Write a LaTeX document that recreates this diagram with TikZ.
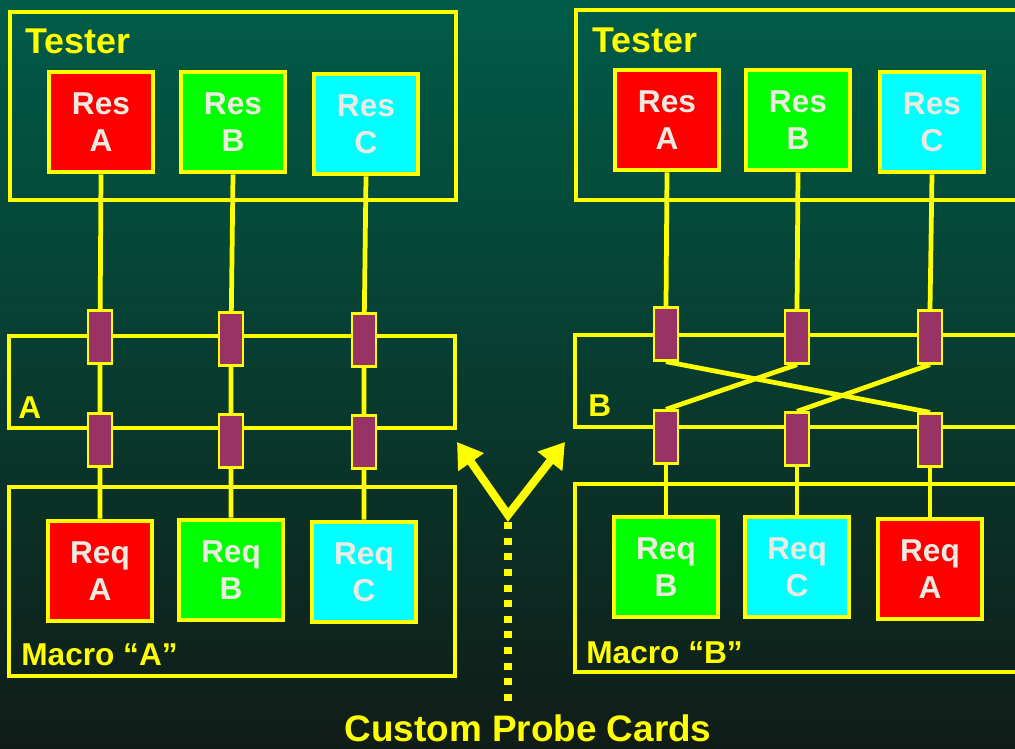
\documentclass[tikz,border=0pt]{standalone}
\usepackage{fontspec}
\setmainfont{Liberation Sans}
\usetikzlibrary{arrows.meta,positioning}
\definecolor{sun}{HTML}{FFFF00}
\definecolor{chalk}{HTML}{EEEAE2}
\definecolor{plum}{HTML}{993366}
\definecolor{scarlet}{HTML}{FF0000}
\definecolor{lime}{HTML}{00FF00}
\definecolor{aqua}{HTML}{00FFFF}
\definecolor{bgtop}{HTML}{005C48}
\definecolor{bgmid}{HTML}{003F30}
\definecolor{bgbot}{HTML}{101C17}
\tikzset{frame/.style={draw=sun,line width=2.8pt},unit/.style={draw=sun,line width=2.8pt,minimum width=2.08cm,minimum height=2cm,inner sep=0pt,align=center,text=chalk,font=\fontsize{18pt}{21pt}\selectfont\bfseries},pad/.style={draw=sun,line width=1.3pt,fill=plum,minimum width=0.48cm,minimum height=1.06cm,inner sep=0pt},wire/.style={draw=sun,line width=2.7pt},tag/.style={text=sun,inner sep=0pt,anchor=base west,font=\fontsize{18pt}{21pt}\selectfont\bfseries},head/.style={tag,font=\fontsize{20.4pt}{24pt}\selectfont\bfseries}}

\begin{document}
\begin{tikzpicture}[x=0.02cm,y=-0.02cm]
\path[use as bounding box] (0,0) rectangle (1015,748);
\clip (0,0) rectangle (1015,748);
\shade[top color=bgtop,middle color=bgmid,bottom color=bgbot] (0,0) rectangle (1015,748);
% macro A
\draw[frame] (10,12) rectangle (456,200);
\draw[frame] (9,336) rectangle (455,428);
\draw[frame] (9,487) rectangle (455,676);
\node[head] (testerA) at (25,53) {Tester};
\node[tag] (cardA) at (18,418) {A};
\node[tag] (macroA) at (21,665) {Macro “A”};
\node[unit,fill=scarlet] (resA1) at (101,122) {Res\\A};
\node[unit,fill=lime] (resB1) at (233,122) {Res\\B};
\node[unit,fill=aqua] (resC1) at (366,124) {Res\\C};
\node[unit,fill=scarlet] (reqA1) at (100,571) {Req\\A};
\node[unit,fill=lime] (reqB1) at (231,570) {Req\\B};
\node[unit,fill=aqua] (reqC1) at (364,572) {Req\\C};
\draw[wire] (resA1.south)--(100,337) (100,337)--(100,440) (100,440)--(reqA1.north);
\draw[wire] (resB1.south)--(231,339) (231,339)--(231,441) (231,441)--(reqB1.north);
\draw[wire] (resC1.south)--(364,340) (364,340)--(364,442) (364,442)--(reqC1.north);
\node[pad] (upA1) at (100,337) {};
\node[pad] (upB1) at (231,339) {};
\node[pad] (upC1) at (364,340) {};
\node[pad] (loA1) at (100,440) {};
\node[pad] (loB1) at (231,441) {};
\node[pad] (loC1) at (364,442) {};
% macro B
\draw[frame] (576,10) rectangle (1030,200);
\draw[frame] (575,335) rectangle (1030,427);
\draw[frame] (575,484) rectangle (1030,672);
\node[head] (testerB) at (592,52) {Tester};
\node[tag] (cardB) at (588,416) {B};
\node[tag] (macroB) at (586,663) {Macro “B”};
\node[pad] (upA2) at (666,334) {};
\node[pad] (upB2) at (797,337) {};
\node[pad] (upC2) at (930,337) {};
\node[pad] (loA2) at (666,437) {};
\node[pad] (loB2) at (797,439) {};
\node[pad] (loC2) at (930,440) {};
\node[unit,fill=scarlet] (resA2) at (667,120) {Res\\A};
\node[unit,fill=lime] (resB2) at (798,120) {Res\\B};
\node[unit,fill=aqua] (resC2) at (932,122) {Res\\C};
\node[unit,fill=lime] (reqB2) at (666,567) {Req\\B};
\node[unit,fill=aqua] (reqC2) at (797,567) {Req\\C};
\node[unit,fill=scarlet] (reqA2) at (930,569) {Req\\A};
\draw[wire] (resA2.south)--(upA2.north);\draw[wire] (resB2.south)--(upB2.north);\draw[wire] (resC2.south)--(upC2.north);
\draw[wire] (upA2.south)--(loC2.north);\draw[wire] (upB2.south)--(loA2.north);\draw[wire] (upC2.south)--(loB2.north);
\draw[wire] (loA2.south)--(reqB2.north);\draw[wire] (loB2.south)--(reqC2.north);\draw[wire] (loC2.south)--(reqA2.north);
\node[pad] at (upA2) {};\node[pad] at (upB2) {};\node[pad] at (upC2) {};
\node[pad] at (loA2) {};\node[pad] at (loB2) {};\node[pad] at (loC2) {};
% probe cards
\coordinate (fork) at (508,515);
\coordinate (toA) at (457,442);
\coordinate (toB) at (565,442);
\draw[sun,line width=4.6pt,{Triangle[length=14pt,width=17pt]}-{Triangle[length=14pt,width=17pt]}] (toA)--(fork)--(toB);
\node[text=sun,inner sep=0pt,anchor=base,font=\fontsize{21pt}{25pt}\selectfont\bfseries] (probe) at (528,741) {Custom Probe Cards};
\draw[sun,line width=4pt,dash pattern=on 4pt off 4.9pt] (fork)++(0,7)--(508,702);
\end{tikzpicture}
\end{document}
